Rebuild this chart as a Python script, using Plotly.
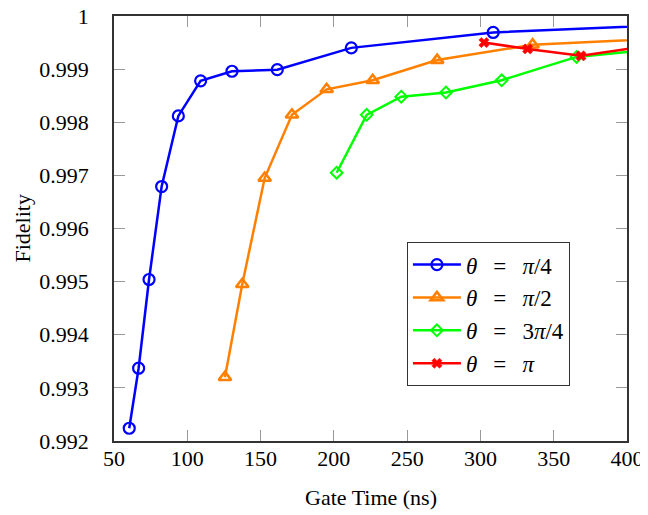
import plotly.graph_objects as go

# Data (gate time in ns, fidelity)
t_pi4 = [60.4, 66.8, 73.9, 82.5, 93.9, 109.1, 130.5, 161.4, 211.9, 308.7, 450]
f_pi4 = [0.99224, 0.99337, 0.99504, 0.99679, 0.99812, 0.99878, 0.99896, 0.99899, 0.99940, 0.99969, 0.99986]

t_pi2 = [125.7, 137.5, 152.8, 171.4, 195.1, 226.5, 270.5, 335.6, 450]
f_pi2 = [0.99320, 0.99495, 0.99695, 0.99814, 0.99862, 0.99879, 0.99917, 0.99946, 0.99961]

t_3pi4 = [201.9, 222.4, 246.0, 276.5, 314.5, 365.6, 430]
f_3pi4 = [0.99705, 0.99814, 0.99848, 0.99856, 0.99879, 0.99923, 0.99940]

t_pi = [302.4, 332.2, 368.6, 420]
f_pi = [0.99950, 0.99938, 0.99925, 0.99946]

x_ticks = [50, 100, 150, 200, 250, 300, 350, 400]
y_ticks = [0.992, 0.993, 0.994, 0.995, 0.996, 0.997, 0.998, 0.999, 1.0]
y_ticktext = ["0.992", "0.993", "0.994", "0.995", "0.996", "0.997", "0.998", "0.999", "1"]

SP = "\u2002\u2009"
series = [
    (t_pi4, f_pi4, f"<i>θ</i>{SP}={SP}<i>π</i>/4", "#0000FF", "circle-open", 11, 2.2),
    (t_pi2, f_pi2, f"<i>θ</i>{SP}={SP}<i>π</i>/2", "#FF8000", "triangle-up-open", 11, 2.6),
    (t_3pi4, f_3pi4, f"<i>θ</i>{SP}={SP}3<i>π</i>/4", "#00FF00", "diamond-open", 9, 2.0),
    (t_pi, f_pi, f"<i>θ</i>{SP}={SP}<i>π</i>", "#FF0000", "x", 9, 0.5),
]

FONT = "Liberation Serif"
fig = go.Figure()
for i, (x, y, name, color, sym, size, mlw) in enumerate(series):
    fig.add_trace(go.Scatter(
        x=x, y=y, name=name, mode="lines+markers",
        legendgroup=f"g{i}",
        line=dict(color=color, width=2.5),
        marker=dict(symbol=sym, size=size, color=color, line=dict(color=color, width=mlw)),
    ))

axis_common = dict(
    showgrid=False, zeroline=False, automargin=False,
    showline=True, linecolor="#333333", linewidth=1.5, mirror="ticks",
    ticks="inside", ticklen=11, tickwidth=1.3, tickcolor="#999999",
    ticklabeloverflow="allow",
    tickfont=dict(family=FONT, size=22, color="black"),
)

fig.update_layout(
    width=640, height=507,
    margin=dict(l=106, r=21, t=8, b=74),
    paper_bgcolor="white", plot_bgcolor="white",
    font=dict(family=FONT, size=22, color="black"),
    xaxis=dict(range=[50, 400], tickvals=x_ticks, ticklabelstandoff=-3, **axis_common),
    yaxis=dict(range=[0.992, 1.0], tickvals=y_ticks, ticktext=y_ticktext,
               ticklabelstandoff=19, **axis_common),
    showlegend=True,
    legend=dict(x=0.571, y=0.468, xanchor="left", yanchor="top",
                bgcolor="white", bordercolor="#333333", borderwidth=1,
                font=dict(family=FONT, size=23), tracegroupgap=0,
                itemwidth=48),
    annotations=[
        dict(text="Gate Time (ns)", xref="paper", yref="paper", x=0.5, y=0,
             yshift=-56, xanchor="center", yanchor="middle", showarrow=False,
             font=dict(family=FONT, size=22)),
        dict(text="Fidelity", xref="paper", yref="paper", x=0, y=0.5,
             xshift=-92, xanchor="center", yanchor="middle", textangle=-90,
             showarrow=False, font=dict(family=FONT, size=22)),
    ],
)

fig.write_html("out.html")
